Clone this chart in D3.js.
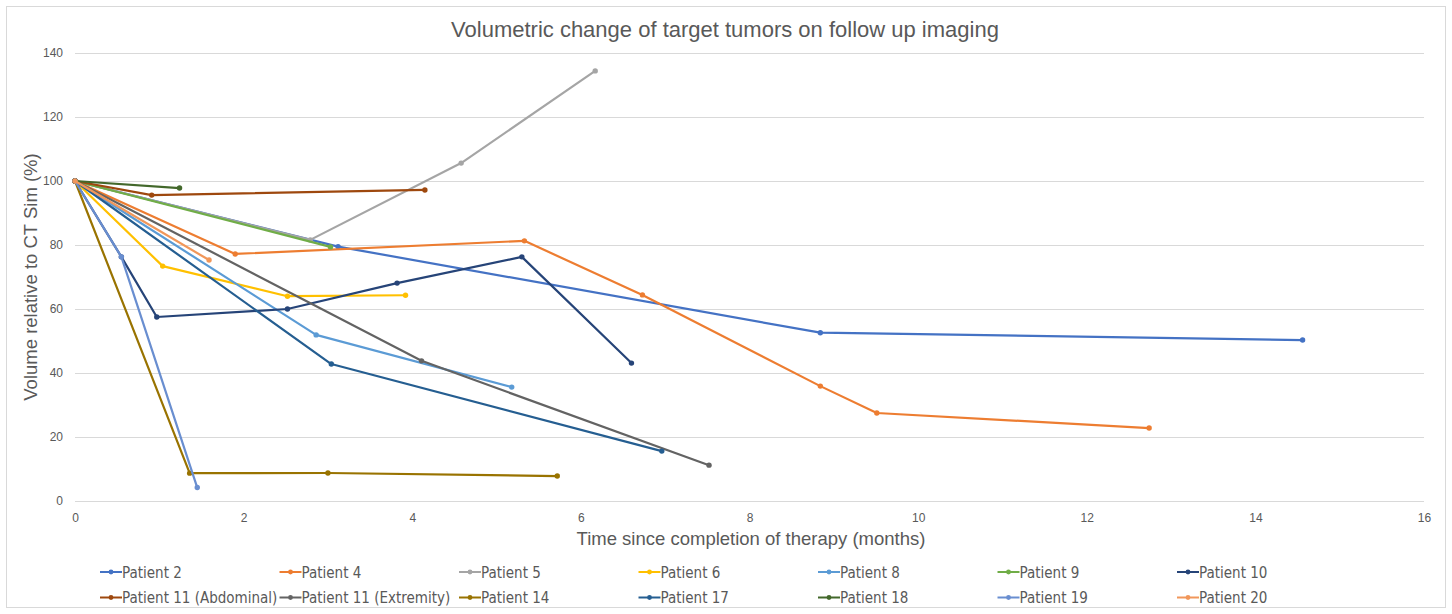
<!DOCTYPE html>
<html>
<head>
<meta charset="utf-8">
<script src="https://cdn.jsdelivr.net/npm/d3@7"></script>
<style>
  body { margin: 0; background: #fff; }
  svg { display: block; }
  .tick text { fill: #595959; font-family: "Liberation Sans", Arial, sans-serif; font-size: 12px; }
</style>
</head>
<body>
<svg id="chart" width="1452" height="614"></svg>
<script>
// series names, colours and points (months, % of CT Sim)
const patients = ["Patient 2", "Patient 4", "Patient 5", "Patient 6", "Patient 8", "Patient 9", "Patient 10",
  "Patient 11 (Abdominal)", "Patient 11 (Extremity)", "Patient 14", "Patient 17", "Patient 18", "Patient 19", "Patient 20"];

const colors = ["#4472C4", "#ED7D31", "#A5A5A5", "#FFC000", "#5B9BD5", "#70AD47", "#264478",
  "#9E480E", "#636363", "#997300", "#255E91", "#43682B", "#698ED0", "#F1975A"];

const months = [
  [0, 3.12, 8.84, 14.56],
  [0, 1.9, 5.33, 6.73, 8.84, 9.51, 12.74],
  [0, 2.79, 4.58, 6.17],
  [0, 1.04, 2.52, 3.92],
  [0, 2.86, 5.18],
  [0, 3.03],
  [0, 0.55, 0.97, 2.52, 3.82, 5.3, 6.6],
  [0, 0.91, 4.15],
  [0, 4.11, 7.52],
  [0, 1.36, 3.0, 5.72],
  [0, 3.04, 6.96],
  [0, 1.24],
  [0, 0.55, 1.45],
  [0, 1.59]
];

const volume = [
  [100, 79.5, 52.6, 50.3],
  [100, 77.2, 81.3, 64.4, 35.9, 27.5, 22.8],
  [100, 81.6, 105.6, 134.4],
  [100, 73.4, 64.0, 64.3],
  [100, 51.9, 35.6],
  [100, 79.4],
  [100, 76.3, 57.5, 60.0, 68.1, 76.3, 43.1],
  [100, 95.6, 97.2],
  [100, 43.8, 11.2],
  [100, 8.7, 8.75, 7.8],
  [100, 42.8, 15.6],
  [100, 97.8],
  [100, 76.3, 4.2],
  [100, 75.3]
];

const xTicks = [0, 2, 4, 6, 8, 10, 12, 14, 16];
const yTicks = [0, 20, 40, 60, 80, 100, 120, 140];

const svg = d3.select('#chart');
const W = 1452, H = 614;
const font = '"Liberation Sans", Arial, sans-serif';

// chart frame
svg.append('rect')
  .attr('x', 6.5).attr('y', 6.5)
  .attr('width', W - 13).attr('height', H - 13)
  .attr('fill', '#fff').attr('stroke', '#d9d9d9');

const x = d3.scaleLinear().domain([0, 16]).range([75, 1424]);
const y = d3.scaleLinear().domain([0, 140]).range([501, 53]);

// horizontal gridlines + y labels
const yAxis = svg.append('g')
  .attr('transform', 'translate(75,0)')
  .call(d3.axisLeft(y).tickValues(yTicks).tickSize(-(1424 - 75)).tickPadding(12));
yAxis.select('.domain').remove();
yAxis.selectAll('.tick line').attr('stroke', '#d9d9d9');

const xAxis = svg.append('g')
  .attr('transform', 'translate(0,501)')
  .call(d3.axisBottom(x).tickValues(xTicks).tickSize(0).tickPadding(12));
xAxis.select('.domain').remove();

// lines
const line = d3.line().x(d => x(d[0])).y(d => y(d[1]));

patients.forEach((p, i) => {
  const pts = months[i].map((m, j) => [m, volume[i][j]]);
  const g = svg.append('g');
  g.append('path')
    .datum(pts)
    .attr('d', line)
    .attr('fill', 'none')
    .attr('stroke', colors[i])
    .attr('stroke-width', 2.2)
    .attr('stroke-linejoin', 'round');
  g.selectAll('circle')
    .data(pts)
    .join('circle')
    .attr('cx', d => x(d[0]))
    .attr('cy', d => y(d[1]))
    .attr('r', 2.7)
    .attr('fill', colors[i]);
});

// titles
svg.append('text')
  .attr('x', 725).attr('y', 37)
  .attr('text-anchor', 'middle')
  .attr('font-family', font).attr('font-size', 22)
  .attr('fill', '#595959')
  .text('Volumetric change of target tumors on follow up imaging');

svg.append('text')
  .attr('transform', 'translate(37,277) rotate(-90)')
  .attr('text-anchor', 'middle')
  .attr('font-family', font).attr('font-size', 18.5)
  .attr('fill', '#595959')
  .text('Volume relative to CT Sim (%)');

svg.append('text')
  .attr('x', 751).attr('y', 545)
  .attr('text-anchor', 'middle')
  .attr('font-family', font).attr('font-size', 18.5)
  .attr('fill', '#595959')
  .text('Time since completion of therapy (months)');

// legend, 7 per row
const legend = svg.append('g');
patients.forEach((p, i) => {
  const col = i % 7, row = Math.floor(i / 7);
  const lx = 100 + col * 179.5, ly = 572 + row * 25.5;
  const item = legend.append('g').attr('transform', `translate(${lx},${ly})`);
  item.append('line')
    .attr('x1', 0).attr('x2', 22).attr('y1', 0).attr('y2', 0)
    .attr('stroke', colors[i]).attr('stroke-width', 2);
  item.append('circle').attr('cx', 11).attr('cy', 0).attr('r', 2.4).attr('fill', colors[i]);
  item.append('text')
    .attr('x', 22).attr('y', 5.5)
    .attr('font-family', '"Liberation Sans Narrow", "DejaVu Sans Condensed", sans-serif')
    .attr('font-size', 15)
    .attr('fill', '#595959')
    .text(p);
});
</script>
</body>
</html>
